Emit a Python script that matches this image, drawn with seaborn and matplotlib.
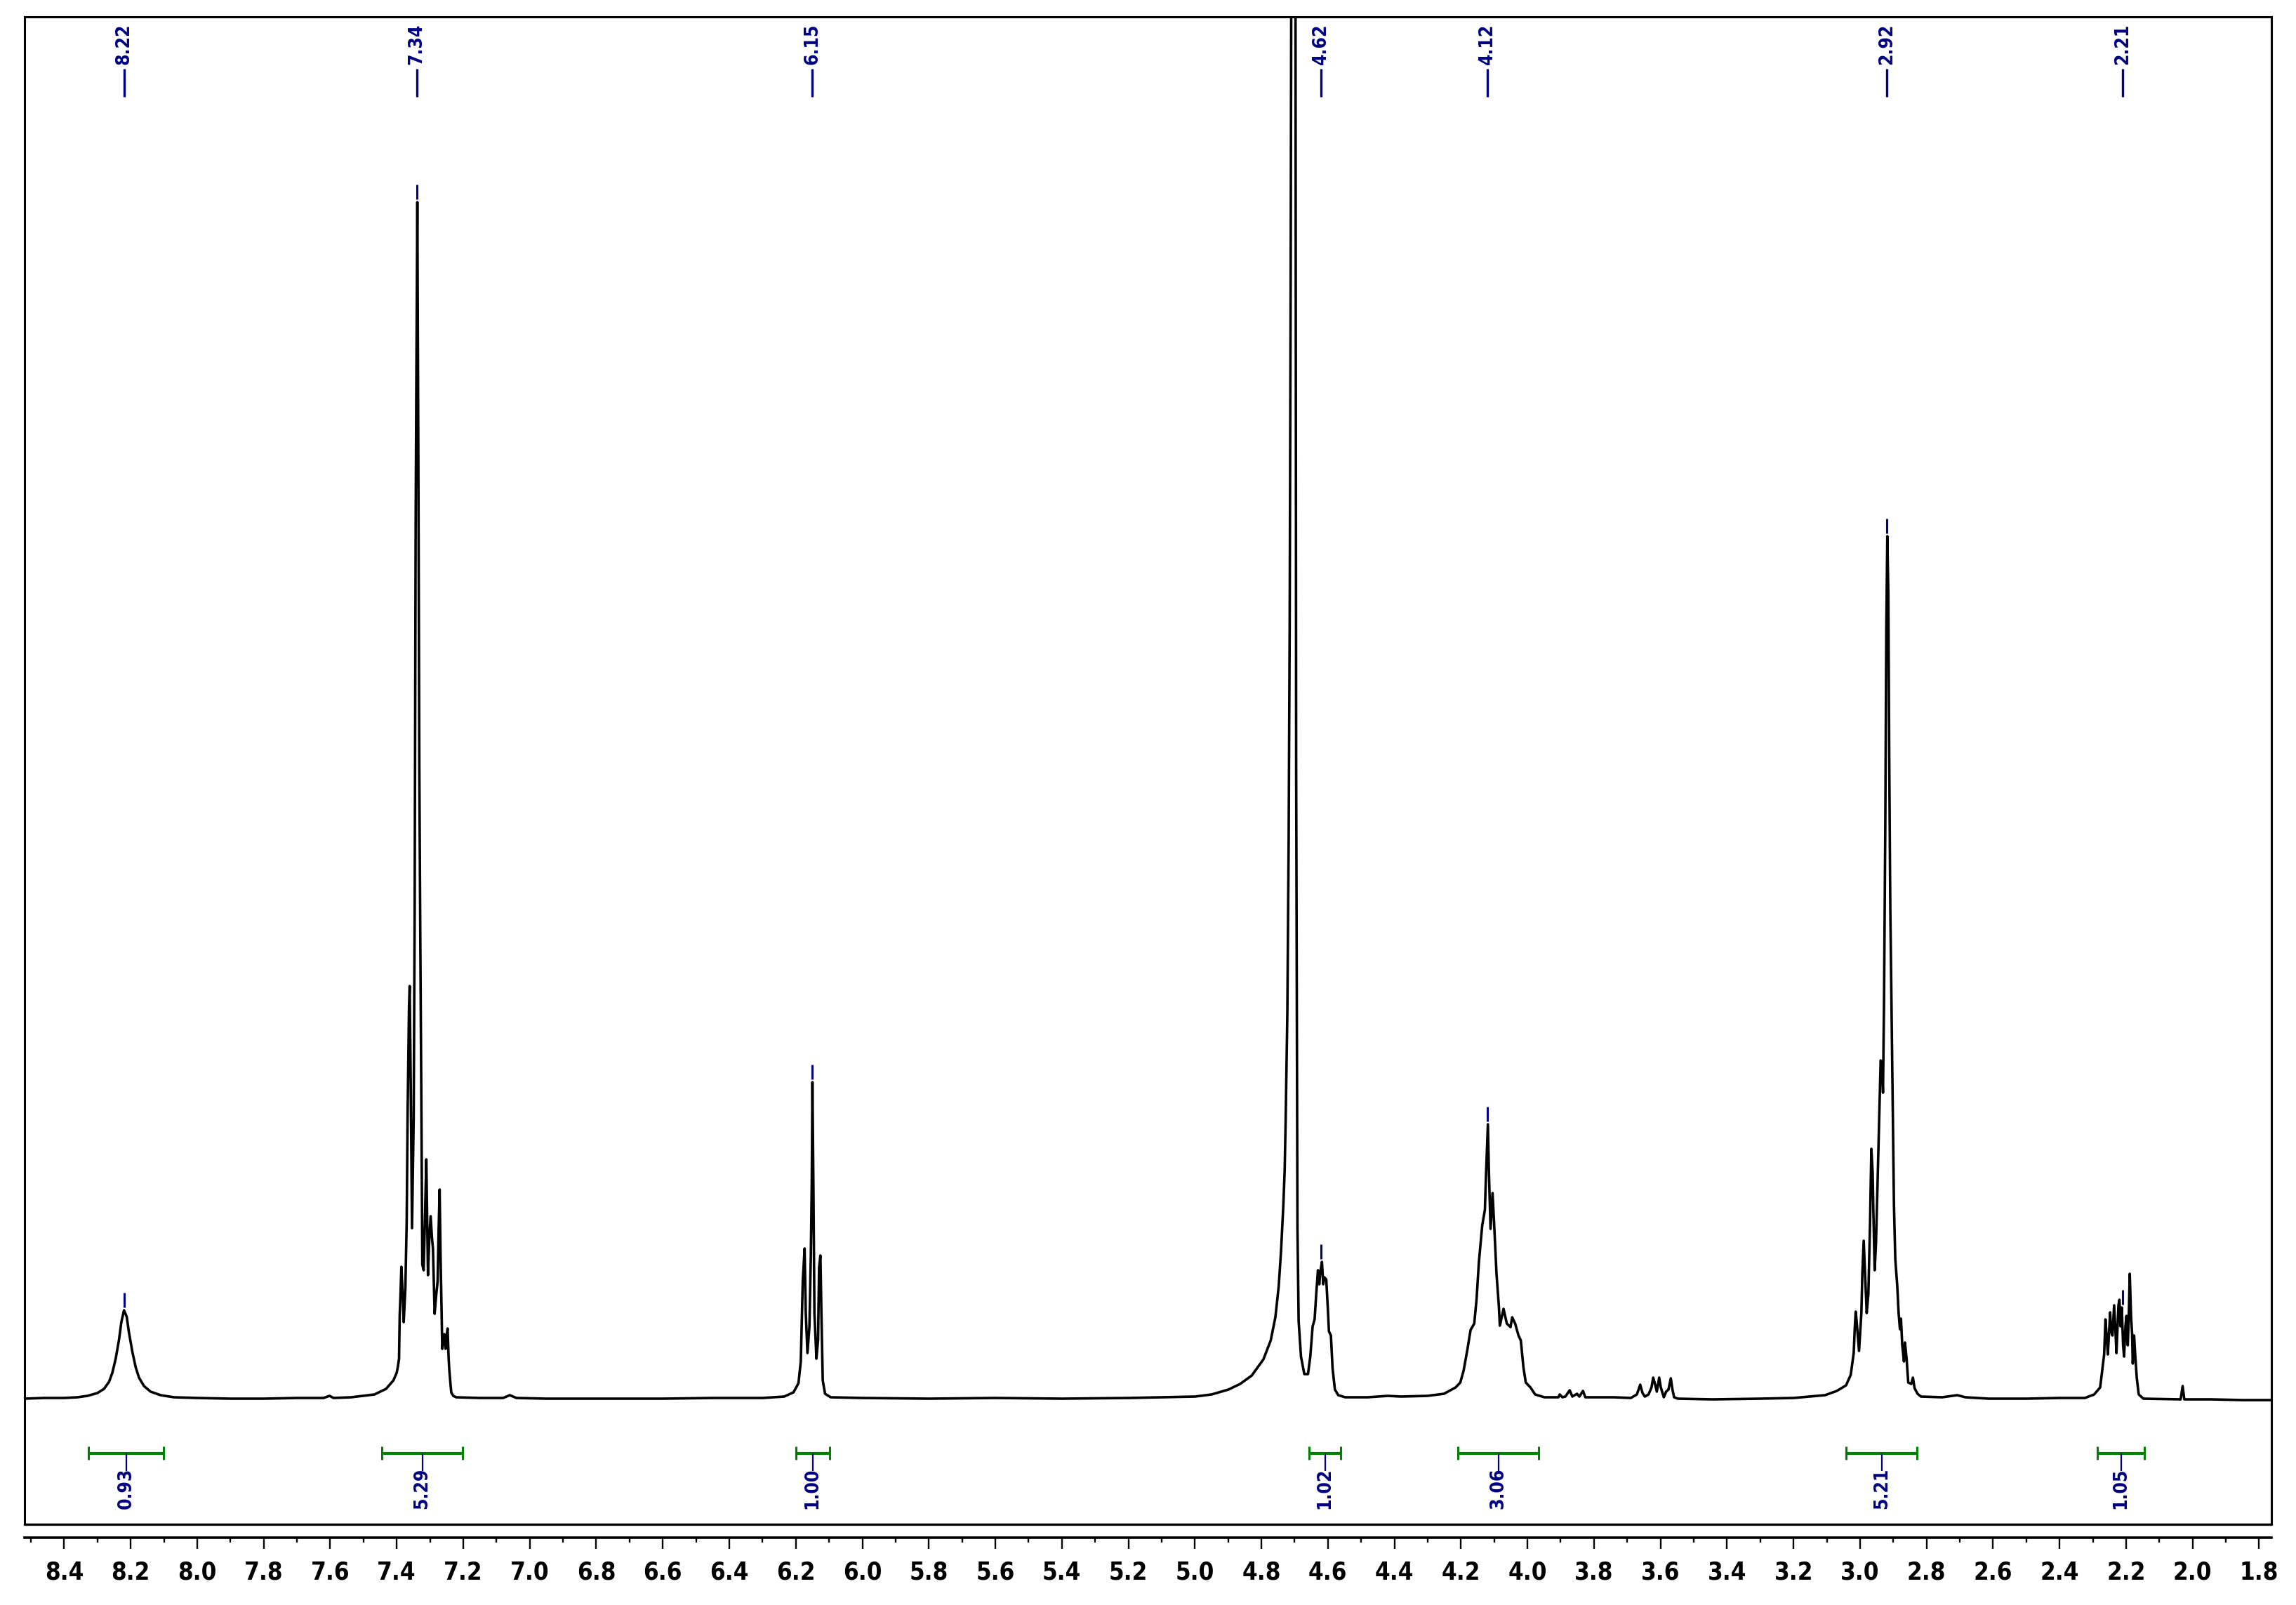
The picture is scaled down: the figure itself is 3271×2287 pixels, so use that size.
import os
import numpy as np
import pandas as pd
import matplotlib
matplotlib.use("Agg")
import matplotlib.pyplot as plt
from matplotlib import font_manager as fm
import seaborn as sns

# ---------------- data ----------------
shift_ppm = [
    8.52, 8.46, 8.40, 8.36, 8.33, 8.30, 8.28, 8.265, 8.255, 8.245, 8.235, 8.228, 8.22, 8.212,
    8.205, 8.195, 8.185, 8.175, 8.16, 8.14, 8.11, 8.07, 8.00, 7.90, 7.80, 7.70, 7.62, 7.602,
    7.59, 7.537, 7.467, 7.432, 7.410, 7.400, 7.396, 7.393, 7.391, 7.389, 7.386, 7.382, 7.379,
    7.374, 7.370, 7.367, 7.363, 7.361, 7.358, 7.354, 7.349, 7.346, 7.343, 7.341, 7.338, 7.335,
    7.332, 7.329, 7.326, 7.323, 7.319, 7.315, 7.311, 7.308, 7.306, 7.302, 7.298, 7.294, 7.291,
    7.286, 7.281, 7.277, 7.274, 7.271, 7.268, 7.266, 7.263, 7.260, 7.257, 7.253, 7.250, 7.247,
    7.244, 7.242, 7.238, 7.236, 7.230, 7.221, 7.15, 7.08, 7.06, 7.04, 6.95, 6.80, 6.60, 6.45,
    6.30, 6.235, 6.207, 6.192, 6.185, 6.179, 6.1735, 6.170, 6.165, 6.159, 6.155, 6.152, 6.150,
    6.147, 6.144, 6.138, 6.133, 6.130, 6.126, 6.123, 6.119, 6.112, 6.095, 6.00, 5.80, 5.60,
    5.40, 5.20, 5.10, 5.00, 4.95, 4.899, 4.864, 4.829, 4.794, 4.772, 4.758, 4.748, 4.741, 4.734,
    4.730, 4.727, 4.722, 4.718, 4.715, 4.712, 4.709, 4.704, 4.698, 4.6955, 4.6916, 4.688, 4.681,
    4.671, 4.660, 4.653, 4.646, 4.640, 4.635, 4.630, 4.626, 4.623, 4.618, 4.614, 4.611, 4.605,
    4.600, 4.597, 4.591, 4.586, 4.579, 4.569, 4.548, 4.48, 4.42, 4.38, 4.301, 4.251, 4.216,
    4.202, 4.192, 4.181, 4.171, 4.160, 4.153, 4.146, 4.136, 4.128, 4.125, 4.119, 4.116, 4.111,
    4.105, 4.100, 4.093, 4.086, 4.083, 4.072, 4.062, 4.051, 4.046, 4.037, 4.027, 4.020, 4.012,
    4.005, 3.991, 3.977, 3.949, 3.907, 3.903, 3.895, 3.886, 3.873, 3.865, 3.851, 3.844, 3.833,
    3.826, 3.809, 3.74, 3.689, 3.671, 3.661, 3.654, 3.647, 3.636, 3.627, 3.622, 3.616, 3.611,
    3.604, 3.599, 3.590, 3.583, 3.576, 3.569, 3.564, 3.559, 3.548, 3.443, 3.30, 3.20, 3.105,
    3.070, 3.042, 3.028, 3.019, 3.016, 3.013, 3.010, 3.003, 2.996, 2.993, 2.989, 2.984, 2.980,
    2.975, 2.970, 2.966, 2.962, 2.960, 2.956, 2.952, 2.947, 2.942, 2.938, 2.934, 2.931, 2.928,
    2.924, 2.921, 2.918, 2.915, 2.912, 2.909, 2.905, 2.901, 2.898, 2.894, 2.888, 2.884, 2.880,
    2.877, 2.873, 2.868, 2.865, 2.860, 2.855, 2.846, 2.841, 2.836, 2.827, 2.817, 2.753, 2.708,
    2.683, 2.613, 2.50, 2.40, 2.324, 2.296, 2.278, 2.271, 2.266, 2.262, 2.258, 2.255, 2.251,
    2.248, 2.245, 2.241, 2.236, 2.232, 2.229, 2.223, 2.220, 2.217, 2.213, 2.209, 2.206, 2.202,
    2.199, 2.195, 2.192, 2.189, 2.185, 2.182, 2.180, 2.176, 2.173, 2.168, 2.162, 2.148, 2.036,
    2.030, 2.025, 1.944, 1.85, 1.76,
]
intensity = [
    1, 2, 2, 3, 5, 9, 15, 25, 38, 58, 85, 110, 127, 118,
    95, 68, 46, 31, 19, 11, 6, 3, 2, 1, 1, 2, 2, 5,
    2, 3, 7, 15, 27, 38, 48, 58, 120, 144, 189, 150, 110,
    158, 254, 417, 560, 589, 455, 244, 400, 700, 1250, 1450, 1706, 1350,
    900, 650, 430, 192, 184, 260, 342, 240, 177, 230, 261, 230, 215,
    122, 150, 168, 240, 299, 200, 150, 72, 85, 93, 72, 90, 101,
    60, 43, 20, 10, 5, 3, 2, 2, 6, 2, 1, 1, 1, 2,
    2, 4, 10, 23, 54, 169, 215, 123, 66, 104, 200, 307, 452,
    299, 123, 58, 85, 188, 205, 123, 27, 8, 3, 2, 1, 2,
    1, 2, 3, 4, 7, 14, 22, 34, 57, 84, 117, 161, 211, 277,
    327, 400, 550, 800, 1100, 1600, 2300, 6000, 2300, 900, 244, 111, 61,
    36, 36, 61, 104, 114, 151, 184, 164, 181, 196, 164, 174, 171,
    127, 97, 91, 44, 14, 6, 3, 3, 5, 4, 5, 8, 17,
    24, 41, 70, 99, 108, 143, 196, 248, 270, 315, 392, 326, 243,
    294, 248, 178, 133, 105, 129, 108, 103, 117, 108, 91, 84, 45,
    24, 17, 7, 3, 3, 7, 3, 4, 13, 4, 8, 4, 12,
    3, 3, 3, 2, 7, 21, 9, 4, 7, 17, 31, 21, 11,
    31, 17, 3, 11, 14, 30, 14, 3, 1, 0, 1, 2, 6,
    12, 20, 35, 66, 100, 125, 110, 69, 123, 180, 226, 169, 123,
    150, 249, 357, 322, 269, 184, 223, 314, 410, 483, 479, 437, 560,
    820, 1100, 1230, 1150, 900, 700, 544, 391, 276, 200, 161, 123, 100,
    115, 77, 54, 81, 58, 24, 22, 31, 16, 8, 4, 3, 6,
    3, 1, 1, 2, 2, 7, 17, 44, 64, 114, 87, 64, 97,
    124, 97, 91, 134, 97, 66, 134, 142, 104, 131, 77, 61, 104,
    119, 77, 117, 179, 117, 94, 51, 91, 67, 31, 7, 1, 0,
    19, 0, 0, -1, -1,
]

peak_labels = ["8.22", "7.34", "6.15", "4.62", "4.12", "2.92", "2.21"]
peak_ppm = [8.22, 7.34, 6.15, 4.62, 4.12, 2.92, 2.21]

integral_start = [8.327, 7.445, 6.200, 4.657, 4.209, 3.041, 2.287]
integral_end = [8.101, 7.201, 6.099, 4.561, 3.966, 2.828, 2.144]
integral_labels = ["0.93", "5.29", "1.00", "1.02", "3.06", "5.21", "1.05"]

x_major_ticks = [8.4, 8.2, 8.0, 7.8, 7.6, 7.4, 7.2, 7.0, 6.8, 6.6, 6.4, 6.2, 6.0, 5.8,
                 5.6, 5.4, 5.2, 5.0, 4.8, 4.6, 4.4, 4.2, 4.0, 3.8, 3.6, 3.4, 3.2, 3.0,
                 2.8, 2.6, 2.4, 2.2, 2.0, 1.8]
x_tick_labels = ["%.1f" % t for t in x_major_ticks]
x_minor_ticks = [8.5, 8.3, 8.1, 7.9, 7.7, 7.5, 7.3, 7.1, 6.9, 6.7, 6.5, 6.3, 6.1, 5.9,
                 5.7, 5.5, 5.3, 5.1, 4.9, 4.7, 4.5, 4.3, 4.1, 3.9, 3.7, 3.5, 3.3, 3.1,
                 2.9, 2.7, 2.5, 2.3, 2.1, 1.9]

# ---------------- styling ----------------
sns.set_theme(style="white")
plt.rcParams["font.family"] = ["DejaVu Sans"]

NAVY = "#000080"
GREEN = "#008000"


def find_font(name):
    for f in fm.findSystemFonts():
        if os.path.basename(f) == name:
            return f
    return None


cond_bold = find_font("DejaVuSansCondensed-Bold.ttf")
if cond_bold:
    tick_fp = fm.FontProperties(fname=cond_bold, size=25)
    lab_fp = fm.FontProperties(fname=cond_bold, size=19)
else:
    tick_fp = fm.FontProperties(family="DejaVu Sans", weight="bold", size=23)
    lab_fp = fm.FontProperties(family="DejaVu Sans", weight="bold", size=17)

W, H = 3271, 2287
DPI = 100
fig = plt.figure(figsize=(W / DPI, H / DPI), dpi=DPI)
fig.patch.set_facecolor("white")
ax = fig.add_axes([35 / W, 1 - 2172 / H, (3236 - 35) / W, (2172 - 24) / H])
ax.set_facecolor("white")

YMIN, YMAX = -178, 1970

df = pd.DataFrame({"ppm": shift_ppm, "intensity": intensity})
sns.lineplot(data=df, x="ppm", y="intensity", sort=False, estimator=None,
             color="black", linewidth=2.6, ax=ax)
ax.set_xlim(8.519, 1.763)
ax.set_ylim(YMIN, YMAX)
ax.set(xlabel="", ylabel="")

# frame
for s in ["left", "right", "top"]:
    ax.spines[s].set_visible(True)
    ax.spines[s].set_color("black")
    ax.spines[s].set_linewidth(2.2)
ax.spines["bottom"].set_visible(True)
ax.spines["bottom"].set_color("black")
ax.spines["bottom"].set_linewidth(2.6)
ax.spines["bottom"].set_position(("outward", 19 * 72 / DPI))
ax.axhline(YMIN, color="black", lw=2.4, clip_on=False, zorder=5)

ax.set_yticks([])
ax.set_xticks(x_major_ticks)
ax.set_xticklabels(x_tick_labels)
ax.set_xticks(x_minor_ticks, minor=True)
ax.tick_params(axis="x", which="major", direction="out", length=11.5, width=1.7,
               color="black", pad=12, bottom=True)
ax.tick_params(axis="x", which="minor", direction="out", length=5.3, width=1.7,
               color="black", bottom=True)
for lab in ax.get_xticklabels():
    lab.set_fontproperties(tick_fp)
    lab.set_color("black")

# peak picking labels
ppm_arr = np.array(shift_ppm)
int_arr = np.array(intensity)
for p, lab in zip(peak_ppm, peak_labels):
    sel = np.abs(ppm_arr - p) <= 0.0055
    top = int_arr[sel].max()
    ax.plot([p, p], [top + 4, top + 25], color=NAVY, lw=2.2, solid_capstyle="butt", zorder=4)
    ax.plot([p, p], [1856, 1896], color=NAVY, lw=2.4, solid_capstyle="butt", zorder=4)
    ax.text(p, 1902, lab, rotation=90, ha="center", va="bottom", color=NAVY,
            fontproperties=lab_fp, zorder=4)

# integrals
for a, b, lab in zip(integral_start, integral_end, integral_labels):
    mid = (a + b) / 2
    ax.plot([a, b], [-77, -77], color=GREEN, lw=3.0, solid_capstyle="butt", zorder=4)
    ax.plot([a, a], [-67, -86], color=GREEN, lw=2.2, solid_capstyle="butt", zorder=4)
    ax.plot([b, b], [-67, -86], color=GREEN, lw=2.2, solid_capstyle="butt", zorder=4)
    ax.plot([mid, mid], [-77, -102], color=NAVY, lw=1.6, solid_capstyle="butt", zorder=4)
    ax.text(mid, -98, lab, rotation=90, ha="center", va="top", color=NAVY,
            fontproperties=lab_fp, zorder=4)

fig.savefig("out.png", dpi=DPI, facecolor="white")
